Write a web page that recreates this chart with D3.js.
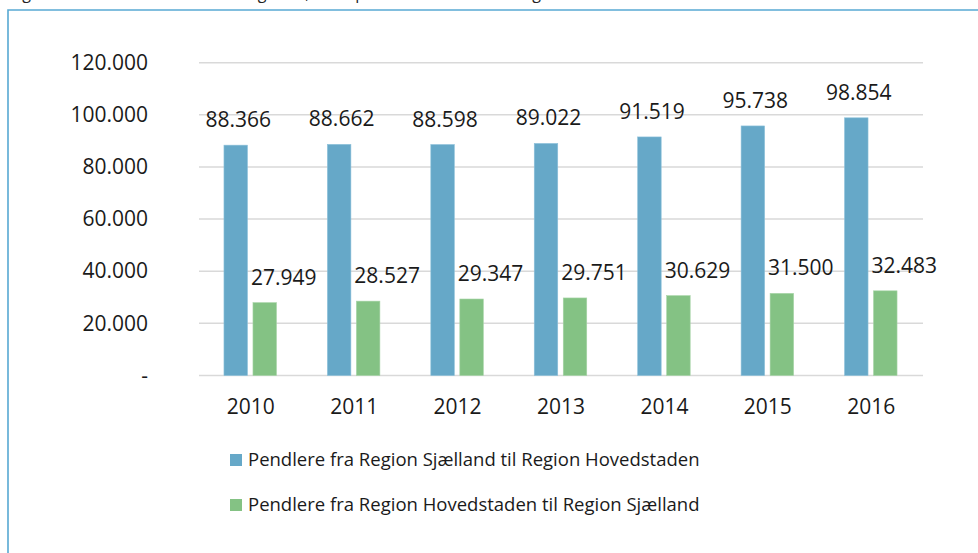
<!DOCTYPE html>
<html><head><meta charset="utf-8">
<script src="https://cdn.jsdelivr.net/npm/d3@7"></script>
<style>
html,body{margin:0;padding:0;background:#fff;}
svg{display:block;font-family:"Open Sans",sans-serif;}
</style></head>
<body>
<svg id="c" width="978" height="553"></svg>
<script>
const years = ["2010","2011","2012","2013","2014","2015","2016"];
const seriesNames = ["Pendlere fra Region Sjælland til Region Hovedstaden","Pendlere fra Region Hovedstaden til Region Sjælland"];
const fromSjaelland = [88366,88662,88598,89022,91519,95738,98854];
const fromHovedstaden = [27949,28527,29347,29751,30629,31500,32483];
const yTicks = [0,20000,40000,60000,80000,100000,120000];
const colors = ["#66a8c8","#84c284"];
const title = "Figur 2: Pendlere mellem de to regioner, antal pendlere i årene 2010 og 2016";

const svg = d3.select("#c");
const fmt = v => v === 0 ? "-" : d3.format(",")(v).replace(/,/g,".");
const txt = "#1a1a1a";

// title (clipped by the top edge, as in the reference)
svg.append("text").attr("x",10).attr("y",-1).attr("font-size",16).attr("fill","#222").text(title);

// frame
svg.append("path").attr("d","M8,553 L8,10 L978,10").attr("fill","none")
  .attr("stroke","#58a9d3").attr("stroke-width",1.6);

const x = d3.scaleBand().domain(years).range([199,923]);
const y = d3.scaleLinear().domain([0,120000]).range([375.5,62.7]);

// gridlines
svg.append("g").selectAll("line").data(yTicks).join("line")
  .attr("x1",199).attr("x2",923)
  .attr("y1",d=>y(d)).attr("y2",d=>y(d))
  .attr("stroke","#d9d9d9").attr("stroke-width",1.5);

// y axis labels
const yAxis = d3.axisLeft(y).tickValues(yTicks).tickFormat(fmt).tickSize(0).tickPadding(0);
const ya = svg.append("g").attr("transform","translate(148,0)").call(yAxis);
ya.select(".domain").remove();
ya.selectAll("text").attr("font-size",21).attr("fill",txt).attr("font-family","Open Sans");

// x axis labels
const xAxis = d3.axisBottom(x).tickSize(0).tickPadding(0);
const xa = svg.append("g").attr("transform","translate(0,399)").call(xAxis);
xa.select(".domain").remove();
xa.selectAll("text").attr("font-size",21).attr("fill",txt).attr("font-family","Open Sans").attr("dy","0.71em");

const bw = 23.5;
const data = years.map((yr,i)=>({yr, a:fromSjaelland[i], b:fromHovedstaden[i]}));

// bars
const g = svg.append("g");
g.selectAll("rect.a").data(data).join("rect").attr("class","a")
  .attr("x",d=>x(d.yr)+x.bandwidth()/2-26.75).attr("width",bw)
  .attr("y",d=>y(d.a)).attr("height",d=>y(0)-y(d.a))
  .attr("fill",colors[0]).attr("stroke","#8cc0da").attr("stroke-width",0.6);
g.selectAll("rect.b").data(data).join("rect").attr("class","b")
  .attr("x",d=>x(d.yr)+x.bandwidth()/2+2.25).attr("width",bw)
  .attr("y",d=>y(d.b)).attr("height",d=>y(0)-y(d.b))
  .attr("fill",colors[1]).attr("stroke","#a6d4a6").attr("stroke-width",0.6);

// labels
g.selectAll("text.la").data(data).join("text").attr("class","la")
  .attr("x",d=>x(d.yr)+x.bandwidth()/2-12.5).attr("y",d=>y(d.a)-18)
  .attr("text-anchor","middle").attr("font-size",21).attr("fill",txt)
  .text(d=>fmt(d.a));
g.selectAll("text.lb").data(data).join("text").attr("class","lb")
  .attr("x",d=>x(d.yr)+x.bandwidth()/2+33).attr("y",d=>y(d.b)-18)
  .attr("text-anchor","middle").attr("font-size",21).attr("fill",txt)
  .text(d=>fmt(d.b));

// legend
const lg = svg.append("g").selectAll("g").data(seriesNames).join("g")
  .attr("transform",(d,i)=>`translate(230,${454+i*45})`);
lg.append("rect").attr("width",12).attr("height",12).attr("fill",(d,i)=>colors[i]);
lg.append("text").attr("x",18).attr("y",11.5).attr("font-size",18.5).attr("fill",txt).text(d=>d);
</script>
</body></html>
